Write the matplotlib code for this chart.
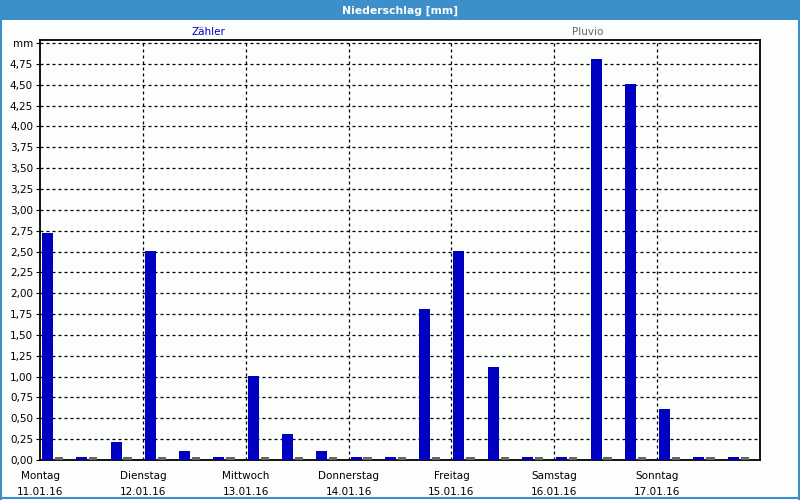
import matplotlib
matplotlib.use("Agg")
import matplotlib.pyplot as plt
from matplotlib.patches import Rectangle
from matplotlib.lines import Line2D
import numpy as np

# --- data ---
day_names = ["Montag", "Dienstag", "Mittwoch", "Donnerstag", "Freitag", "Samstag", "Sonntag"]
day_dates = ["11.01.16", "12.01.16", "13.01.16", "14.01.16", "15.01.16", "16.01.16", "17.01.16"]
zaehler = [2.72, 0.03, 0.22,
           2.51, 0.11, 0.03,
           1.01, 0.31, 0.11,
           0.03, 0.03, 1.81,
           2.51, 1.12, 0.03,
           0.03, 4.81, 4.51,
           0.61, 0.03, 0.03]
pluvio = [0.035, 0.035, 0.035,
          0.035, 0.035, 0.035,
          0.035, 0.035, 0.035,
          0.035, 0.035, 0.035,
          0.035, 0.035, 0.035,
          0.035, 0.035, 0.035,
          0.035, 0.035, 0.035]
y_ticks = [0.0, 0.25, 0.5, 0.75, 1.0, 1.25, 1.5, 1.75, 2.0, 2.25, 2.5, 2.75,
           3.0, 3.25, 3.5, 3.75, 4.0, 4.25, 4.5, 4.75, 5.0]
y_labels = ["0,00", "0,25", "0,50", "0,75", "1,00", "1,25", "1,50", "1,75", "2,00", "2,25",
            "2,50", "2,75", "3,00", "3,25", "3,50", "3,75", "4,00", "4,25", "4,50", "4,75", "mm"]

BLUE = "#0000c0"
GRAY = "#666666"
BG = "#fcfefc"
HEAD = "#3c8fc8"

plt.rcParams['font.family'] = ['DejaVu Sans']
fig = plt.figure(figsize=(8, 5), dpi=100, facecolor=BG)
ax = fig.add_axes([0.05, 0.08, 0.90, 0.84], facecolor=BG)

n = len(zaehler)
x = np.arange(n)
ax.bar(x + 0.22, zaehler, width=0.32, color=BLUE, linewidth=0, zorder=3)
ax.bar(x + 0.555, pluvio, width=0.24, color=GRAY, linewidth=0, zorder=3)

ax.set_xlim(0, n)
ax.set_ylim(0, 5.036)

# grid
for yv in y_ticks[1:]:
    ax.axhline(yv, color="black", lw=0.9, ls=(0, (2.4, 2.4)), zorder=2)
for d in range(1, 7):
    ax.axvline(d * 3, color="black", lw=0.9, ls=(0, (2.4, 2.4)), zorder=2)

ax.set_yticks(y_ticks)
ax.set_yticklabels(y_labels, fontsize=7.5)
ax.set_xticks([d * 3 for d in range(7)])
ax.set_xticklabels([f"{a}\n{b}" for a, b in zip(day_names, day_dates)], fontsize=7.5,
                   linespacing=1.75)
ax.tick_params(axis="x", length=0, pad=8)
ax.tick_params(axis="y", length=3, width=0.8, pad=2)
for s in ax.spines.values():
    s.set_linewidth(1.3)
    s.set_color("black")

# header bar
fig.patches.append(Rectangle((0, 0.96), 1, 0.04, transform=fig.transFigure,
                             facecolor=HEAD, edgecolor="none", zorder=0))
fig.text(0.5, 0.979, "Niederschlag [mm]", color="white", fontsize=7.8, fontweight="bold",
         ha="center", va="center")
# frame
fig.lines.append(Line2D([0.001, 0.001], [0, 1], transform=fig.transFigure, color=HEAD, lw=1.5))
fig.lines.append(Line2D([0.999, 0.999], [0, 1], transform=fig.transFigure, color=HEAD, lw=1.5))
fig.lines.append(Line2D([0, 1], [0.004, 0.004], transform=fig.transFigure, color=HEAD, lw=1.5))

# legend-like labels
fig.text(208 / 800, 1 - 32 / 500, "Zähler", color=BLUE, fontsize=7.5, ha="center", va="center")
fig.text(588 / 800, 1 - 32 / 500, "Pluvio", color=GRAY, fontsize=7.5, ha="center", va="center")

fig.savefig("out.png", dpi=100, facecolor=BG)
